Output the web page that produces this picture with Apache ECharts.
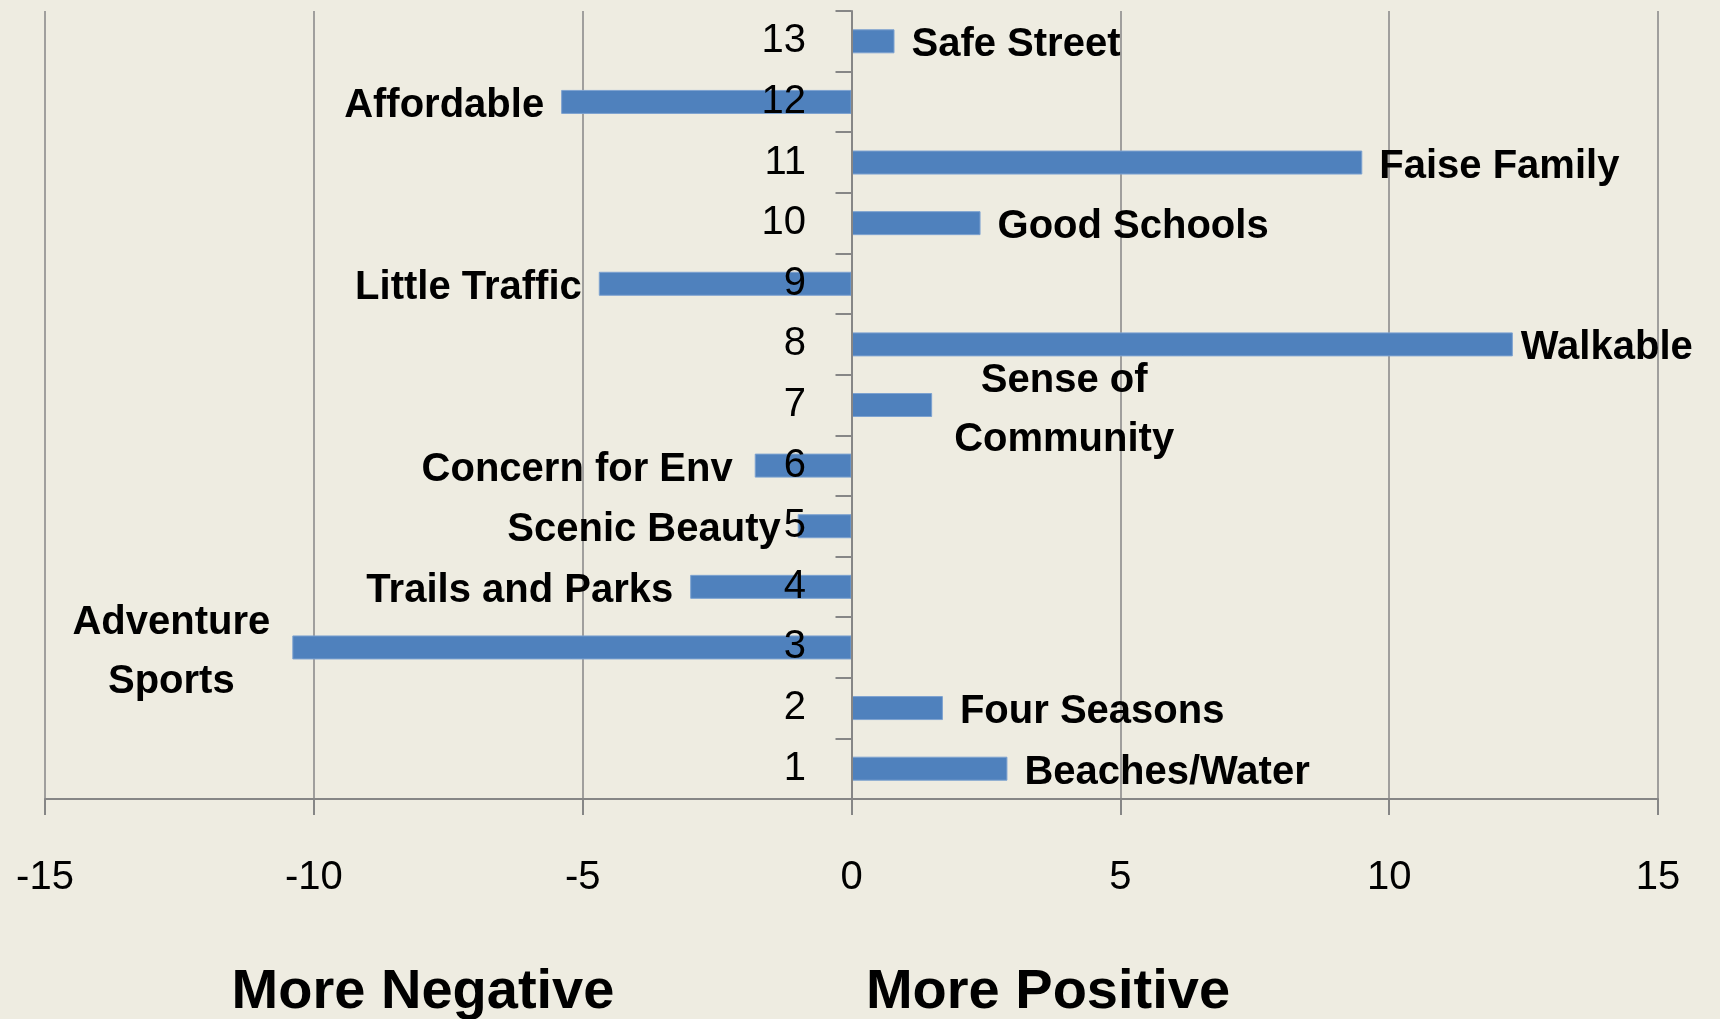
<!DOCTYPE html>
<html>
<head>
<meta charset="utf-8">
<script src="https://cdn.jsdelivr.net/npm/echarts@6/dist/echarts.min.js"></script>
<style>
  html, body { margin: 0; padding: 0; background: #eeece1; }
  #chart { width: 1720px; height: 1019px; }
</style>
</head>
<body>
<div id="chart"></div>
<script>
// category numbers, bottom to top
const categories = ['1', '2', '3', '4', '5', '6', '7', '8', '9', '10', '11', '12', '13'];
// score per category
const scores = [2.9, 1.7, -10.4, -3.0, -1.0, -1.8, 1.5, 12.3, -4.7, 2.4, 9.5, -5.4, 0.8];
// text next to each bar
const names = ['Beaches/Water', 'Four Seasons', 'Adventure\nSports', 'Trails and Parks', 'Scenic Beauty',
  'Concern for Env', 'Sense of\nCommunity', 'Walkable', 'Little Traffic', 'Good Schools',
  'Faise Family', 'Affordable', 'Safe Street'];
const xTicks = [-15, 15, 5]; // min, max, step

const FONT = '"Liberation Sans", Arial, sans-serif';
const GRID_LEFT = 45;

const chart = echarts.init(document.getElementById('chart'));

// labels: default left/right of the bar, the two-line ones get centred
const barData = scores.map((v, i) => {
  const label = {
    position: v >= 0 ? 'right' : 'left',
    distance: 17,
    offset: [0, 4]
  };
  if (names[i] === 'Sense of\nCommunity') {
    label.align = 'center';
    label.offset = [115, 5];
  }
  if (names[i] === 'Adventure\nSports') {
    label.align = 'center';
    label.offset = [-104, 5];
  }
  if (names[i] === 'Walkable') label.distance = 8;
  if (names[i] === 'Concern for Env') label.distance = 22;
  return { value: v, label: label };
});

chart.setOption({
  backgroundColor: '#eeece1',
  animation: false,
  grid: { left: GRID_LEFT, right: 62, top: 11, bottom: 220, containLabel: false, outerBoundsMode: 'none' },
  xAxis: {
    type: 'value',
    min: xTicks[0],
    max: xTicks[1],
    interval: xTicks[2],
    axisLine: { show: true, lineStyle: { color: '#868686', width: 2 } },
    axisTick: { show: true, length: 16, lineStyle: { color: '#868686', width: 2 } },
    splitLine: { show: true, lineStyle: { color: '#868686', width: 1.5 } },
    axisLabel: { color: '#000', fontSize: 40, fontFamily: FONT, margin: 59 }
  },
  yAxis: {
    type: 'category',
    data: categories,
    axisLine: { show: true, onZero: true, lineStyle: { color: '#868686', width: 2 } },
    axisTick: { show: true, length: 16, lineStyle: { color: '#868686', width: 2 } },
    // labels stay at the grid edge, so pull them over next to the zero line
    axisLabel: {
      color: '#000', fontSize: 40, fontFamily: FONT, margin: GRID_LEFT - 806, align: 'right',
      padding: [6, 0, 0, 0]
    },
    z: 5
  },
  series: [
    {
      type: 'bar',
      data: barData,
      barWidth: 24,
      itemStyle: { color: '#4f81bd', borderColor: '#7da2d0', borderWidth: 1 },
      label: {
        show: true,
        formatter: (p) => names[p.dataIndex],
        color: '#000',
        fontSize: 40,
        fontWeight: 'bold',
        fontFamily: FONT,
        lineHeight: 59
      }
    }
  ],
  graphic: [
    {
      type: 'text', x: 423, y: 965,
      style: { text: 'More Negative', fill: '#000', font: 'bold 56px ' + FONT, textAlign: 'center', textVerticalAlign: 'top' }
    },
    {
      type: 'text', x: 1048, y: 965,
      style: { text: 'More Positive', fill: '#000', font: 'bold 56px ' + FONT, textAlign: 'center', textVerticalAlign: 'top' }
    }
  ]
});
</script>
</body>
</html>
